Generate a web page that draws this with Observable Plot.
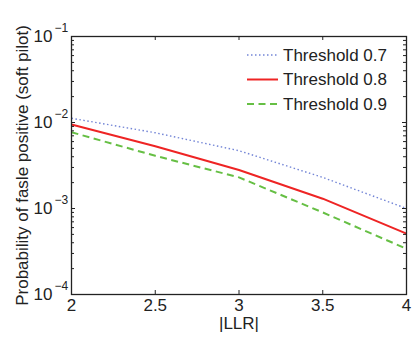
<!DOCTYPE html>
<html><head><meta charset="utf-8">
<script src="https://cdn.jsdelivr.net/npm/d3@7"></script>
<script src="https://cdn.jsdelivr.net/npm/@observablehq/plot@0.6"></script>
<style>body{margin:0;background:#fff;} #chart{width:412px;height:339px;}</style>
</head><body><div id="chart"></div>
<script>
const llr = [2, 2.5, 3, 3.5, 4];
const th07 = [1.12e-2, 7.6e-3, 4.7e-3, 2.3e-3, 1.0e-3];
const th08 = [9.5e-3, 5.3e-3, 2.8e-3, 1.3e-3, 5.1e-4];
const th09 = [7.7e-3, 4.1e-3, 2.3e-3, 9.0e-4, 3.4e-4];
const seriesNames = ["Threshold 0.7", "Threshold 0.8", "Threshold 0.9"];
const xTicks = [2, 2.5, 3, 3.5, 4];
const yMajor = [1e-4, 1e-3, 1e-2, 1e-1];
const yExp = ["\u22124", "\u22123", "\u22122", "\u22121"];
const xLabel = "|LLR|";
const yLabel = "Probability of fasle positive (soft pilot)";

const colors = ["#7385d6", "#ee2424", "#66bf44"];
const dashes = ["1.5,2.5", null, "7,4.5"];
const widths = [1.4, 2, 2];
const seriesVals = [th07, th08, th09];

const yMinor = [];
for (let e = -4; e < -1; e++) for (let m = 2; m <= 9; m++) yMinor.push(m * Math.pow(10, e));

const W = 412, H = 339, mL = 71, mR = 6, mT = 36, mB = 45;
const pw = W - mL - mR, ph = H - mT - mB;
const ink = "#222";
const font = "'Liberation Sans', Arial, sans-serif";

const lineMarks = seriesVals.map((vals, i) =>
  Plot.line(llr.map((x, j) => ({x, y: vals[j]})), {
    x: "x", y: "y", stroke: colors[i], strokeWidth: widths[i],
    strokeDasharray: dashes[i], strokeLinecap: "butt"
  })
);

const chart = Plot.plot({
  width: W, height: H,
  marginLeft: mL, marginRight: mR, marginTop: mT, marginBottom: mB,
  style: {fontFamily: font, background: "#fff", color: ink},
  x: {domain: [2, 4], axis: null},
  y: {type: "log", domain: [1e-4, 1e-1], axis: null},
  marks: [
    ...lineMarks,
    // inward ticks
    Plot.tickY(yMajor, {y: d => d, insetRight: pw - 4, stroke: ink, strokeWidth: 1}),
    Plot.tickY(yMajor, {y: d => d, insetLeft: pw - 4, stroke: ink, strokeWidth: 1}),
    Plot.tickY(yMinor, {y: d => d, insetRight: pw - 3, stroke: ink, strokeWidth: 1}),
    Plot.tickY(yMinor, {y: d => d, insetLeft: pw - 3, stroke: ink, strokeWidth: 1}),
    Plot.tickX(xTicks, {x: d => d, insetTop: ph - 4, stroke: ink, strokeWidth: 1}),
    Plot.tickX(xTicks, {x: d => d, insetBottom: ph - 4, stroke: ink, strokeWidth: 1}),
    Plot.frame({stroke: ink, strokeWidth: 1.3}),
    // y tick labels
    Plot.text(yMajor, {y: d => d, text: () => "10", frameAnchor: "left", dx: -19, textAnchor: "end", fontSize: 17, fill: ink}),
    Plot.text(yMajor, {y: d => d, text: (d, i) => yExp[i], frameAnchor: "left", dx: -17, dy: -8, textAnchor: "start", fontSize: 12, fill: ink}),
    // x tick labels
    Plot.text(xTicks, {x: d => d, text: d => String(d), frameAnchor: "bottom", dy: 16, fontSize: 17, fill: ink}),
    Plot.text([xLabel], {frameAnchor: "bottom", dy: 34, textAnchor: "middle", fontSize: 17, fill: ink}),
    Plot.text([yLabel], {frameAnchor: "left", dx: -49, rotate: -90, textAnchor: "middle", fontSize: 17, fill: ink})
  ]
});

document.getElementById("chart").appendChild(chart);

// legend (inside the axes, top right)
const svg = d3.select(chart);
const lg = svg.append("g");
const rowY = [55, 79.5, 104];
seriesNames.forEach((name, i) => {
  lg.append("line")
    .attr("x1", 247).attr("x2", 278).attr("y1", rowY[i]).attr("y2", rowY[i])
    .attr("stroke", colors[i]).attr("stroke-width", widths[i])
    .attr("stroke-dasharray", dashes[i]);
  lg.append("text")
    .attr("x", 283).attr("y", rowY[i]).attr("dy", "0.35em")
    .attr("text-anchor", "start")
    .attr("font-size", 17).attr("fill", ink)
    .attr("font-family", font)
    .text(name);
});
</script>
</body></html>
